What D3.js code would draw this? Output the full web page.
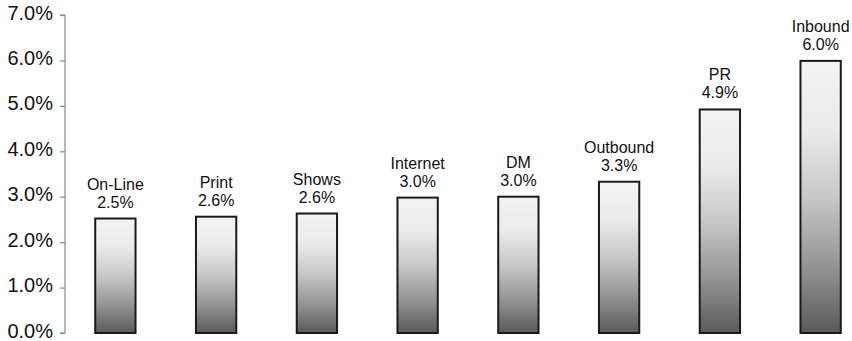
<!DOCTYPE html>
<html><head><meta charset="utf-8">
<script src="https://cdn.jsdelivr.net/npm/d3@7"></script>
<style>
html,body{margin:0;padding:0;background:#fff;}
svg{display:block;}
text{font-family:"Liberation Sans",Arial,sans-serif;fill:#111;}
</style></head>
<body>
<svg id="chart" width="852" height="341"></svg>
<script>
const categories = ["On-Line","Print","Shows","Internet","DM","Outbound","PR","Inbound"];
const values = [2.52, 2.56, 2.63, 2.98, 3.0, 3.33, 4.92, 5.99];
const yTicks = [0,1,2,3,4,5,6,7];

const svg = d3.select("#chart");
const axisX = 65;
const y = d3.scaleLinear().domain([0,7]).range([333,15]);
const x = d3.scaleBand().domain(categories).range([65, 871]).paddingInner(0.6).paddingOuter(0.3);

const defs = svg.append("defs");
const grad = defs.append("linearGradient").attr("id","barGrad")
  .attr("x1",0).attr("y1",0).attr("x2",0).attr("y2",1);
[[0,"#f3f3f3"],[0.25,"#ebebeb"],[0.5,"#c8c8c8"],[0.75,"#959595"],[1,"#5a5a5a"]]
  .forEach(([o,c])=>grad.append("stop").attr("offset",o).attr("stop-color",c));

// axis
const yAxis = d3.axisLeft(y).tickValues(yTicks).tickSize(5).tickPadding(7)
  .tickFormat(d=>d3.format(".1f")(d)+"%");
const ag = svg.append("g").attr("transform",`translate(${axisX},0)`).call(yAxis);
ag.select(".domain").attr("stroke","#8a8a8a").attr("stroke-width",1.2)
  .attr("d",`M-5,${y(7)}H0V${y(0)}H-5`);
ag.selectAll(".tick line").attr("stroke","#8a8a8a").attr("stroke-width",1.2);
ag.selectAll(".tick text").style("font-size","20px").attr("fill","#111").attr("dy","0.2em")
  .style("font-family",'"Liberation Sans",Arial,sans-serif');

// bars
const data = categories.map((c,i)=>({c, v: values[i]}));
svg.append("g").selectAll("rect").data(data).join("rect")
  .attr("x",d=>x(d.c)).attr("width",x.bandwidth())
  .attr("y",d=>y(d.v)).attr("height",d=>y(0)-y(d.v))
  .attr("fill","url(#barGrad)").attr("stroke","#1a1a1a").attr("stroke-width",2);

// labels
const lg = svg.append("g").attr("text-anchor","middle").style("font-size","16px");
lg.selectAll("text.name").data(data).join("text").attr("class","name")
  .attr("x",d=>x(d.c)+x.bandwidth()/2).attr("y",d=>y(d.v)-29).text(d=>d.c);
lg.selectAll("text.val").data(data).join("text").attr("class","val")
  .attr("x",d=>x(d.c)+x.bandwidth()/2).attr("y",d=>y(d.v)-11)
  .text(d=>d3.format(".1f")(d.v)+"%");
</script>
</body></html>
